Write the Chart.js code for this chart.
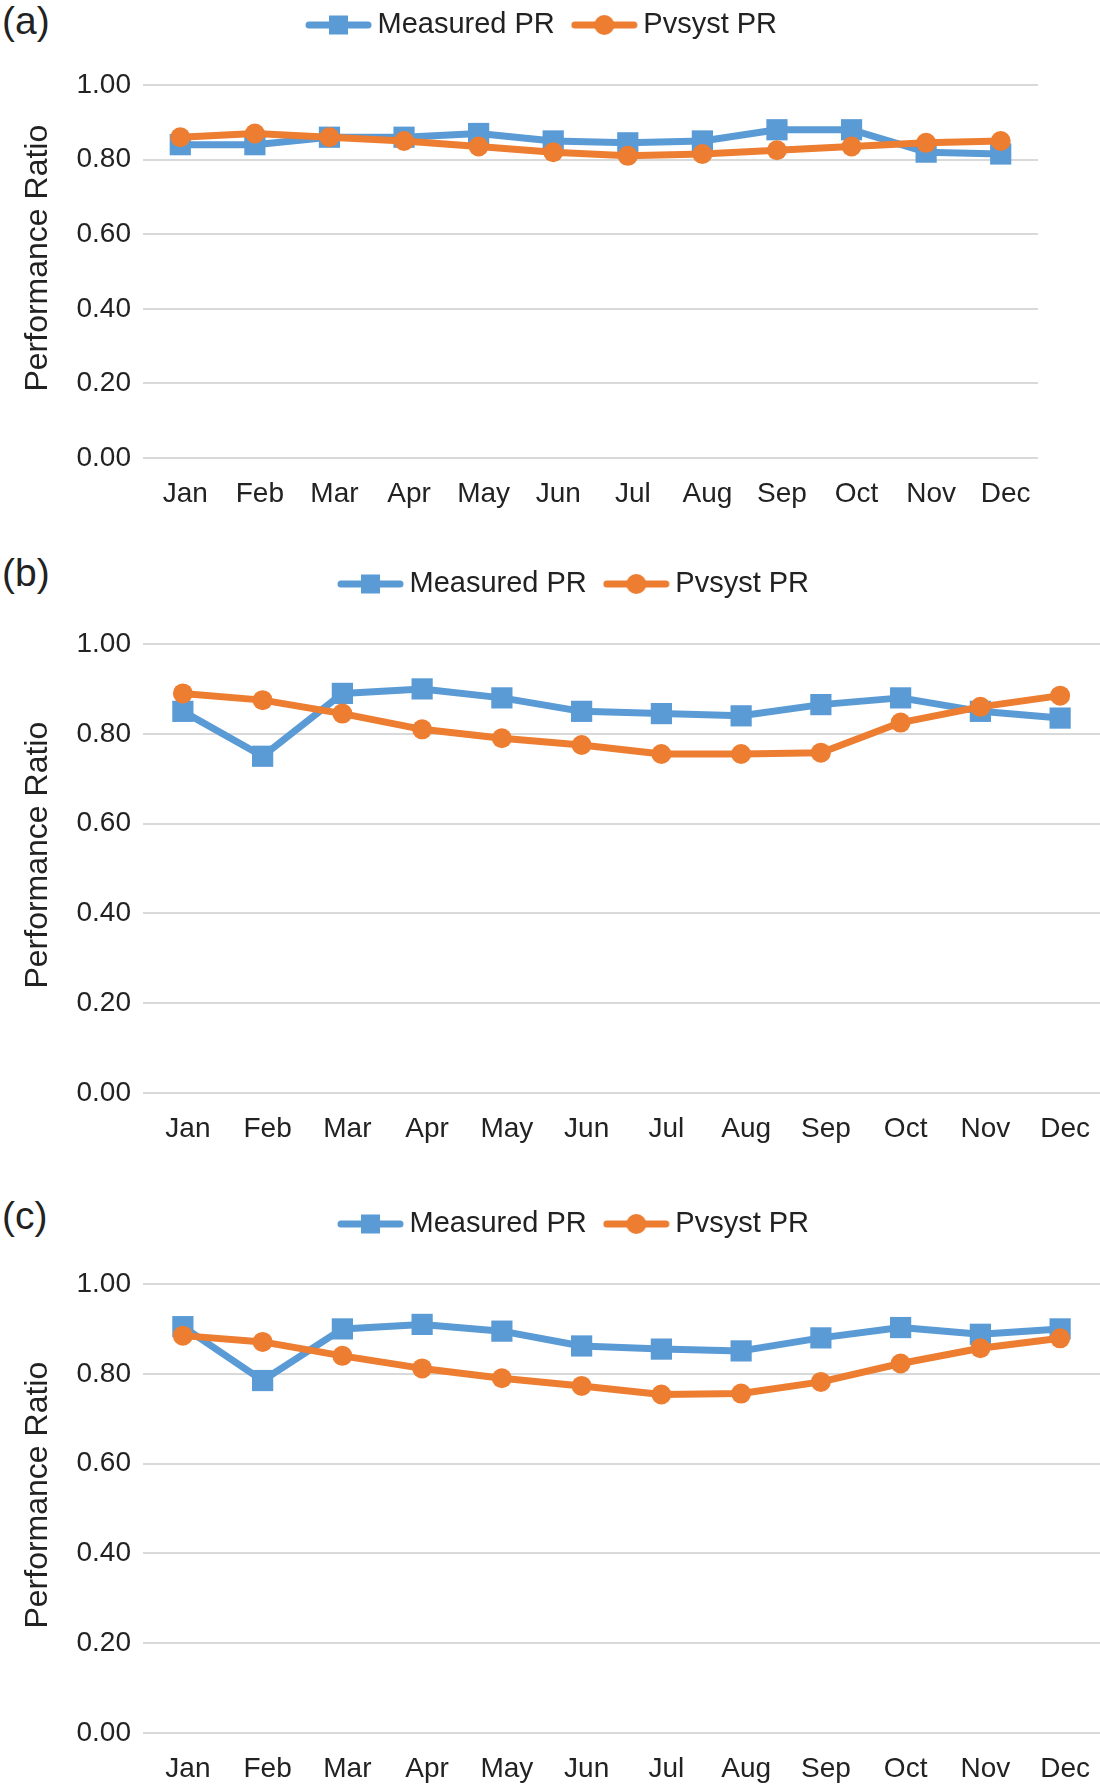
<!DOCTYPE html>
<html>
<head>
<meta charset="utf-8">
<script src="https://cdn.jsdelivr.net/npm/chart.js@4/dist/chart.umd.min.js"></script>
<style>
  body { margin: 0; background: #fff; }
  #page { position: relative; width: 1100px; height: 1785px; overflow: hidden; background: #fff; }
  canvas { position: absolute; left: 0; }
  .tag { position: absolute; left: 2px; font: 39px/1 'Liberation Sans', Arial, sans-serif; color: #222; }
</style>
</head>
<body>
<div id="page">
  <div class="tag" style="top:1px">(a)</div>
  <div class="tag" style="top:553px">(b)</div>
  <div class="tag" style="top:1196px">(c)</div>
  <canvas id="chartA" width="1100" height="545" style="top:0"></canvas>
  <canvas id="chartB" width="1100" height="620" style="top:545px"></canvas>
  <canvas id="chartC" width="1100" height="645" style="top:1165px"></canvas>
</div>
<script>
// 月份與三組 PR 資料 (a)(b)(c)
const months = ['Jan', 'Feb', 'Mar', 'Apr', 'May', 'Jun', 'Jul', 'Aug', 'Sep', 'Oct', 'Nov', 'Dec'];
const seriesNames = ['Measured PR', 'Pvsyst PR'];

const measuredA = [0.84, 0.84, 0.86, 0.86, 0.87, 0.85, 0.845, 0.85, 0.88, 0.88, 0.82, 0.815];
const pvsystA = [0.86, 0.87, 0.86, 0.85, 0.835, 0.82, 0.81, 0.815, 0.825, 0.835, 0.845, 0.85];

const measuredB = [0.85, 0.75, 0.89, 0.90, 0.88, 0.85, 0.845, 0.84, 0.865, 0.88, 0.85, 0.835];
const pvsystB = [0.89, 0.875, 0.845, 0.81, 0.79, 0.775, 0.755, 0.755, 0.758, 0.825, 0.86, 0.885];

const measuredC = [0.905, 0.785, 0.90, 0.91, 0.895, 0.862, 0.855, 0.851, 0.88, 0.903, 0.888, 0.90];
const pvsystC = [0.885, 0.871, 0.84, 0.812, 0.79, 0.773, 0.754, 0.756, 0.782, 0.823, 0.857, 0.879];

// y 軸刻度
const yMin = 0;
const yMax = 1;
const yStep = 0.2;

const BLUE = '#5B9BD5';
const ORANGE = '#ED7D31';
const FONT = "'Liberation Sans', Arial, sans-serif";
const LEGEND_FONT = 29;
const LEGEND_PAD = 25;
const LEGEND_H = LEGEND_FONT + LEGEND_PAD + 10; // legend fit() 的高度

// 圖例用的 線+標記 小圖
function legendIcon(color, marker) {
  const c = document.createElement('canvas');
  c.width = 67; c.height = 22;
  const g = c.getContext('2d');
  g.strokeStyle = color; g.fillStyle = color;
  g.lineWidth = 7; g.lineCap = 'round';
  g.beginPath(); g.moveTo(4, 11); g.lineTo(63, 11); g.stroke();
  if (marker === 'rect') {
    g.fillRect(24, 1.5, 19, 19);
  } else {
    g.beginPath(); g.arc(33.5, 11, 10, 0, Math.PI * 2); g.fill();
  }
  return c;
}
const icons = [legendIcon(BLUE, 'rect'), legendIcon(ORANGE, 'circle')];

// 把圖例放到指定位置 (畫之前)
const legendPlace = {
  id: 'legendPlace',
  beforeDraw(chart, args, opts) {
    const lg = chart.legend;
    if (!lg || !lg.lineWidths) return;
    const lw = lg.lineWidths[0];
    const h = lg.bottom - lg.top;
    lg.left = opts.x - LEGEND_PAD;
    lg.right = opts.x + lw;
    lg.top = opts.y - LEGEND_PAD - LEGEND_FONT / 2;
    lg.bottom = lg.top + h;
  }
};

function makeChart(id, measured, pvsyst, cfg) {
  const ctx = document.getElementById(id).getContext('2d');
  return new Chart(ctx, {
    type: 'line',
    data: {
      labels: months,
      datasets: [
        {
          label: seriesNames[0],
          data: measured,
          borderColor: BLUE,
          backgroundColor: BLUE,
          borderWidth: 7,
          pointStyle: 'rect',
          pointRadius: 15,
          pointBorderWidth: 0,
          borderJoinStyle: 'round',
          borderCapStyle: 'round',
          order: 1
        },
        {
          label: seriesNames[1],
          data: pvsyst,
          borderColor: ORANGE,
          backgroundColor: ORANGE,
          borderWidth: 7,
          pointStyle: 'circle',
          pointRadius: 10,
          pointBorderWidth: 0,
          borderJoinStyle: 'round',
          borderCapStyle: 'round',
          order: 0
        }
      ]
    },
    options: {
      responsive: false,
      animation: false,
      layout: {
        autoPadding: false, // 圖 (b)(c) 繪圖區一直延伸到右邊界
        padding: { left: 0, right: cfg.right, top: cfg.top - LEGEND_H, bottom: cfg.bottom }
      },
      plugins: {
        tooltip: { enabled: false },
        legend: {
          position: 'top',
          labels: {
            usePointStyle: true,
            pointStyleWidth: 49,
            padding: LEGEND_PAD,
            color: '#222',
            font: { family: FONT, size: LEGEND_FONT },
            sort: (a, b) => a.datasetIndex - b.datasetIndex,
            generateLabels: (chart) =>
              Chart.defaults.plugins.legend.labels.generateLabels(chart)
                .map(item => ({ ...item, pointStyle: icons[item.datasetIndex] }))
          }
        },
        legendPlace: { x: cfg.legendX, y: cfg.legendY }
      },
      scales: {
        x: {
          offset: true,
          afterFit: (scale) => { scale.paddingLeft = 0; scale.paddingRight = 0; },
          grid: { display: false, drawTicks: false },
          border: { display: false },
          ticks: { color: '#222', padding: 22, labelOffset: 5, font: { family: FONT, size: 28, lineHeight: 1 }, maxRotation: 0, autoSkip: false }
        },
        y: {
          min: yMin,
          max: yMax,
          afterFit: (scale) => { scale.width = 143; },
          grid: { color: '#d9d9d9', lineWidth: 2, drawTicks: false },
          border: { display: false },
          ticks: {
            stepSize: yStep,
            padding: 12,
            color: '#222',
            font: { family: FONT, size: 28 },
            callback: (v) => Number(v).toFixed(2)
          },
          title: {
            display: true,
            text: '\u00a0\u00a0\u00a0Performance Ratio',
            color: '#222',
            font: { family: FONT, size: 32 },
            padding: { top: 19, bottom: 0 }
          }
        }
      }
    },
    plugins: [legendPlace]
  });
}

makeChart('chartA', measuredA, pvsystA, { top: 85, bottom: 15, right: 62, legendX: 314, legendY: 25 });
makeChart('chartB', measuredB, pvsystB, { top: 99, bottom: 0, right: 0, legendX: 346, legendY: 39 });
makeChart('chartC', measuredC, pvsystC, { top: 119, bottom: 5, right: 0, legendX: 346, legendY: 59 });
</script>
</body>
</html>
